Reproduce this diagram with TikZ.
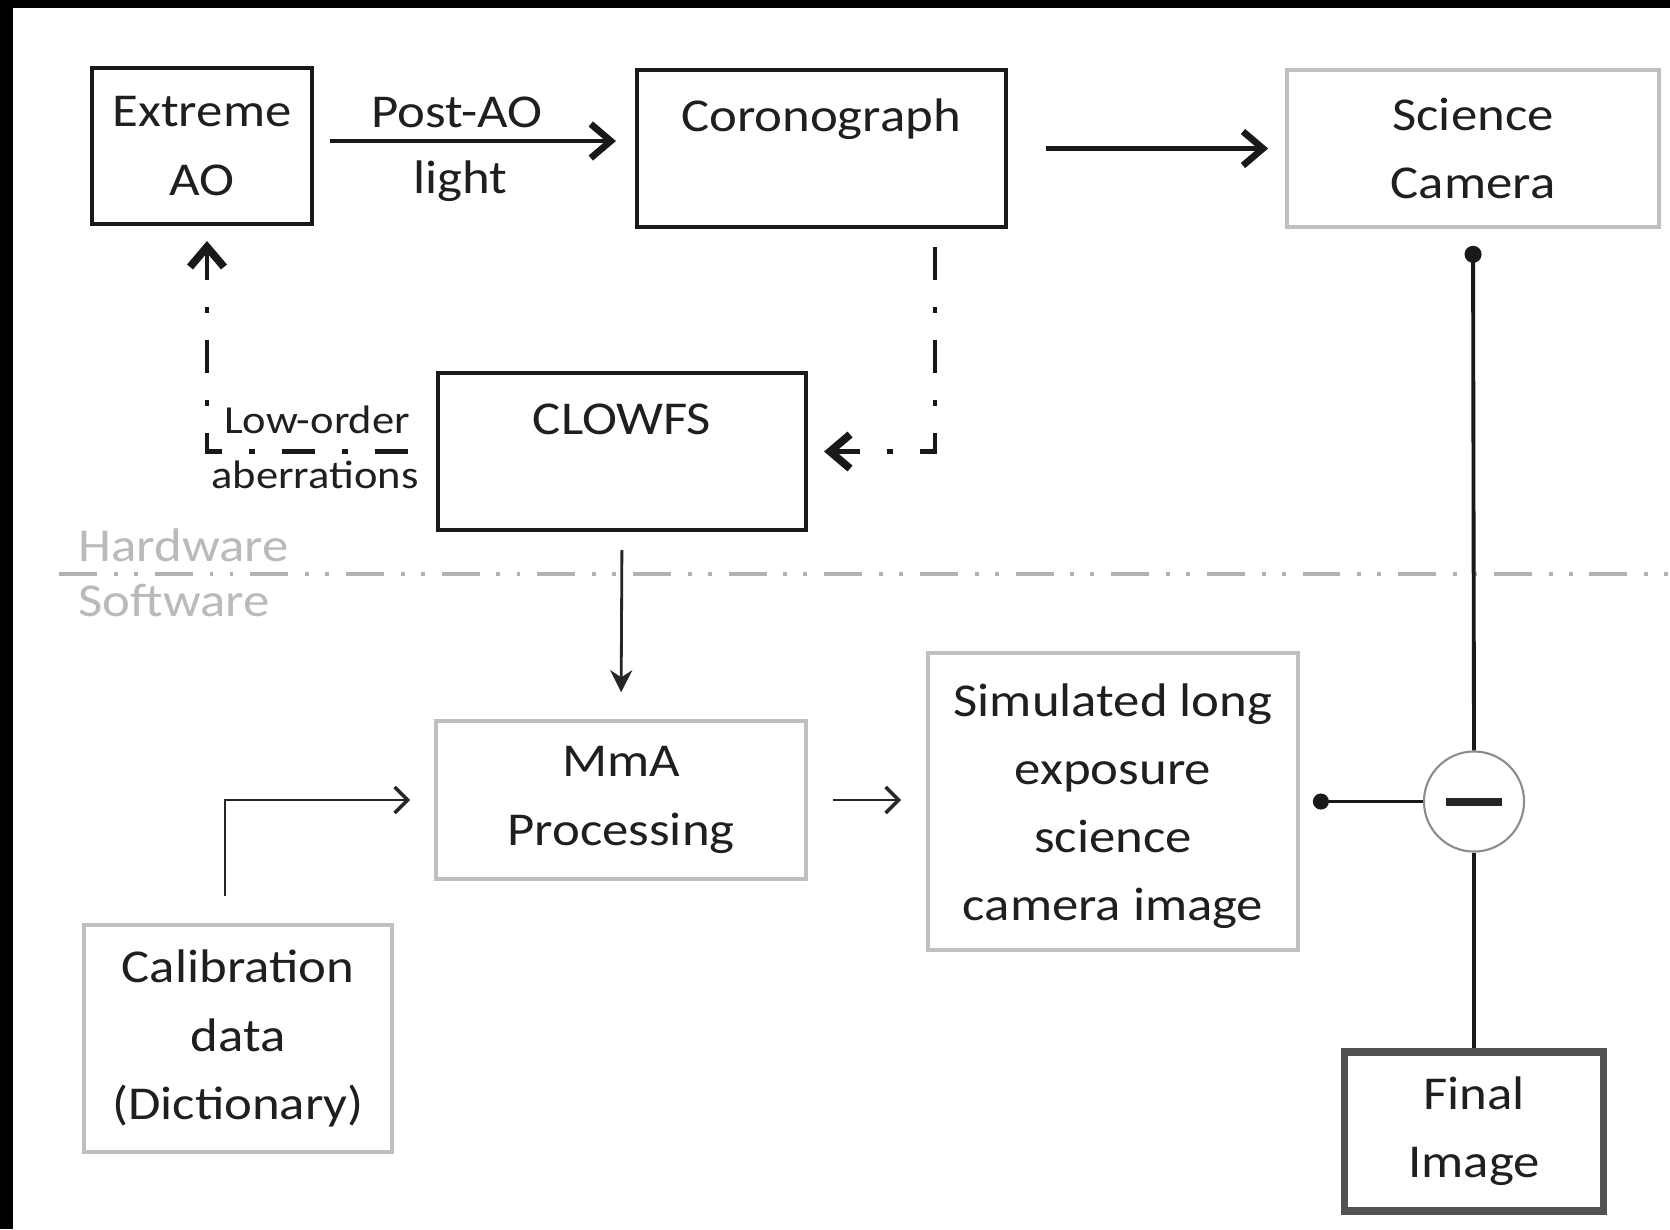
\documentclass[tikz,border=0pt]{standalone}
\usepackage{fontspec}
\setmainfont{Carlito}[FakeStretch=1.12]
\usetikzlibrary{arrows.meta,calc}
\begin{document}
\begin{tikzpicture}[x=0.01cm,y=-0.01cm,
  txt/.style={font=\fontsize{13.4}{19.4}\selectfont, align=center, inner sep=0pt, text=black!88},
  small/.style={font=\fontsize{11.3}{14}\selectfont, inner sep=0pt, text=black!88, anchor=base},
  hwtxt/.style={font=\fontsize{13.4}{19.4}\selectfont, text=black!27, anchor=west, inner sep=0pt},
  darkbox/.style={draw=black!90, line width=1.1pt, fill=white, inner sep=0pt},
  graybox/.style={draw=black!25, line width=1pt, fill=white, inner sep=0pt},
  finalbox/.style={draw=black!68, line width=2.2pt, fill=white, inner sep=0pt},
  bigarr/.style={draw=black!90, line width=1.4pt, -{Straight Barb[length=2mm,width=3.4mm,line width=1.9pt]}},
  ddarr/.style={draw=black!90, line width=1.4pt, line cap=butt,
     dash pattern=on 9.4pt off 7.7pt on 1.7pt off 7.7pt,
     -{Straight Barb[length=2mm,width=3.4mm,line width=2.2pt]}},
  thinarr/.style={draw=black!85, line width=0.8pt, -{Straight Barb[length=1.3mm,width=2.6mm,line width=1pt]}},
  stealtharr/.style={draw=black!85, line width=0.8pt, -{Stealth[length=2.2mm,width=2.2mm]}},
  conn/.style={draw=black!90, line width=1.1pt},
  divider/.style={draw=black!30, line width=1.1pt, line cap=butt,
     dash pattern=on 10.8pt off 4.8pt on 1.1pt off 4.6pt on 1.1pt off 4.8pt}
]
\useasboundingbox (0,0) rectangle (1670,1229);
\fill[white] (0,0) rectangle (1670,1229);
\fill[black] (0,0) rectangle (1670,8);
\fill[black] (0,0) rectangle (13,1229);

% divider
\coordinate (divL) at (59,574);
\coordinate (divR) at (1670,574);
\draw[divider] (divL) -- (divR);
\node[hwtxt] (hw) at (78,545) {Hardware};
\node[hwtxt] (sw) at (78,600) {Software};

% boxes
\node[darkbox, minimum width=2.2cm, minimum height=1.56cm, txt] (xao) at (202,146) {Extreme\\AO};
\node[darkbox, minimum width=3.69cm, minimum height=1.57cm] (coro) at (821.5,148.5) {};
\node[txt] (coroT) at (821,119) {Coronograph};
\node[graybox, minimum width=3.72cm, minimum height=1.57cm, txt] (sci) at (1473,148.5) {Science\\Camera};
\node[darkbox, minimum width=3.68cm, minimum height=1.57cm] (clow) at (622,451.5) {};
\node[txt] (clowT) at (622,419) {CLOWFS};
\node[graybox, minimum width=3.70cm, minimum height=1.58cm, txt] (mma) at (621,800) {MmA\\Processing};
\node[graybox, minimum width=3.70cm, minimum height=2.97cm] (sim) at (1113,801.5) {};
\node[txt] (simT) at (1113,806) {Simulated long\\exposure\\science\\camera image};
\node[graybox, minimum width=3.08cm, minimum height=2.27cm, txt] (cal) at (238,1038.5) {Calibration\\data\\(Dictionary)};
\node[finalbox, minimum width=2.59cm, minimum height=1.59cm, txt] (fin) at (1474,1131.5) {Final\\Image};
\node[draw=black!45, line width=0.6pt, circle, minimum size=1cm, inner sep=0pt, fill=white, text=black!85] (circ) at (1474,801.5) {\rule{0.56cm}{0.08cm}};

% labels
\node[txt] (post) at (457,112) {Post-AO};
\node[txt] (light) at (460,181) {light};
\node[small] (low) at (317,433) {Low-order};
\node[small] (aber) at (315,488) {aberrations};

% connectors
\draw[bigarr, shorten <=0.16cm, shorten >=0.19cm] ([yshift=0.05cm]xao.east) -- ([yshift=0.05cm]coro.west |- xao.east);
\draw[bigarr, shorten <=0.38cm, shorten >=0.17cm] (coro.east) -- (sci.west);
\draw[ddarr, shorten <=0.18cm, shorten >=0.16cm] ([xshift=-0.73cm]coro.south east) |- (clow.east);
\draw[ddarr, shorten <=0.28cm, shorten >=0.15cm] (clow.west) -| ([xshift=0.05cm]xao.south);
\draw[stealtharr, shorten <=0.18cm, shorten >=0.27cm] (clow.south) -- (mma.north);
\draw[thinarr, shorten <=0.27cm, shorten >=0.24cm] ([xshift=-0.13cm]cal.north) |- (mma.west);
\draw[thinarr, shorten <=0.25cm, shorten >=0.25cm] (mma.east) -- (sim.west |- mma.east);
\draw[conn, {Circle[length=1.6mm]}-, shorten <=0.13cm] (sim.east) -- (circ.west);
\draw[conn, {Circle[length=1.7mm]}-, shorten <=0.17cm] (sci.south) -- (circ.north);
\draw[conn] (circ.south) -- (fin.north);
\end{tikzpicture}
\end{document}
